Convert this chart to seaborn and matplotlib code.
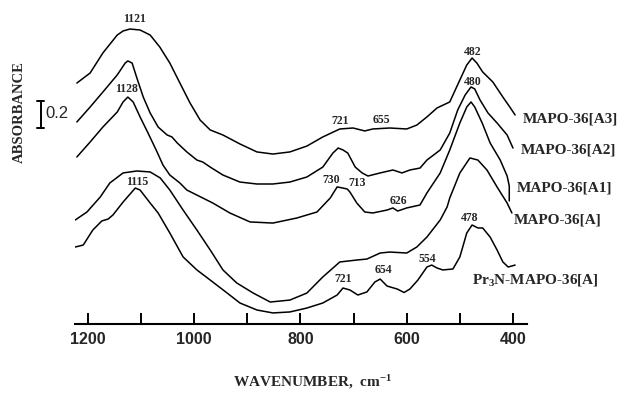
import matplotlib
matplotlib.use("Agg")
import matplotlib.pyplot as plt
from matplotlib.lines import Line2D
import pandas as pd
import seaborn as sns

# ---------------- data (wavenumber cm-1, stacked absorbance) ----------------
wn_A3 = [1221, 1196, 1172, 1145, 1134, 1121, 1102, 1083, 1065, 1046, 1027, 1008, 989, 970, 946,
         914, 882, 852, 820, 788, 758, 726, 701, 679, 664, 632, 600, 581, 562, 543, 519, 500,
         487, 477, 468, 457, 438, 419, 406, 396]
abs_A3 = [1.721, 1.793, 1.936, 2.064, 2.093, 2.107, 2.100, 2.064, 1.979, 1.864, 1.721, 1.579, 1.457,
          1.386, 1.350, 1.286, 1.229, 1.214, 1.229, 1.271, 1.336, 1.393, 1.400, 1.379, 1.393, 1.400,
          1.393, 1.421, 1.479, 1.543, 1.586, 1.743, 1.850, 1.900, 1.864, 1.800, 1.729, 1.621, 1.550,
          1.493]

wn_A2 = [1221, 1196, 1172, 1145, 1130, 1125, 1117, 1108, 1096, 1083, 1068, 1051, 1042, 1032, 1014,
         995, 984, 970, 946, 914, 882, 852, 820, 788, 758, 739, 729, 720, 711, 697, 684, 673, 650,
         626, 609, 594, 575, 562, 537, 519, 504, 490, 479, 472, 462, 447, 430, 411, 400]
abs_A2 = [1.443, 1.550, 1.657, 1.779, 1.864, 1.879, 1.864, 1.757, 1.621, 1.507, 1.407, 1.350, 1.336,
          1.293, 1.229, 1.171, 1.157, 1.121, 1.064, 1.014, 1.000, 1.000, 1.014, 1.050, 1.121, 1.221,
          1.257, 1.243, 1.221, 1.121, 1.079, 1.057, 1.079, 1.100, 1.079, 1.100, 1.114, 1.171, 1.243,
          1.364, 1.529, 1.636, 1.693, 1.679, 1.600, 1.507, 1.436, 1.350, 1.257]

wn_A1 = [1221, 1196, 1172, 1145, 1134, 1125, 1115, 1102, 1087, 1070, 1059, 1046, 1027, 1014, 984,
         965, 933, 895, 852, 807, 769, 744, 731, 720, 712, 707, 694, 679, 664, 637, 626, 617, 600,
         575, 562, 537, 519, 500, 487, 479, 472, 458, 443, 424, 411, 407, 407]
abs_A1 = [1.193, 1.300, 1.407, 1.514, 1.586, 1.621, 1.586, 1.479, 1.364, 1.229, 1.136, 1.064, 1.007,
          0.957, 0.900, 0.864, 0.793, 0.729, 0.721, 0.757, 0.800, 0.900, 0.979, 0.971, 0.964, 0.943,
          0.864, 0.800, 0.793, 0.814, 0.829, 0.807, 0.829, 0.850, 0.936, 1.079, 1.243, 1.436, 1.550,
          1.586, 1.550, 1.436, 1.293, 1.171, 1.057, 0.986, 0.879]

wn_A = [1224, 1202, 1177, 1159, 1134, 1108, 1083, 1064, 1046, 1021, 995, 970, 946, 920, 889, 857,
        820, 788, 758, 726, 694, 675, 650, 632, 600, 581, 562, 537, 524, 519, 500, 481, 466, 449,
        430, 411, 402]
abs_A = [0.743, 0.800, 0.907, 1.007, 1.079, 1.093, 1.086, 1.043, 0.957, 0.814, 0.671, 0.529, 0.386,
         0.293, 0.221, 0.157, 0.171, 0.221, 0.336, 0.443, 0.457, 0.464, 0.507, 0.514, 0.507, 0.550,
         0.621, 0.743, 0.836, 0.900, 1.079, 1.186, 1.171, 1.100, 0.979, 0.864, 0.793]

wn_Pr = [1224, 1209, 1191, 1174, 1162, 1153, 1134, 1111, 1102, 1083, 1068, 1046, 1021, 995, 970,
         938, 914, 882, 852, 820, 788, 758, 731, 720, 707, 692, 675, 660, 650, 637, 618, 605, 594,
         579, 562, 553, 543, 532, 513, 500, 487, 477, 466, 457, 443, 430, 419, 409, 396]
abs_Pr = [0.550, 0.564, 0.671, 0.736, 0.750, 0.779, 0.871, 0.971, 0.957, 0.864, 0.793, 0.650, 0.479,
          0.386, 0.314, 0.221, 0.150, 0.100, 0.079, 0.086, 0.114, 0.150, 0.207, 0.257, 0.243, 0.207,
          0.229, 0.300, 0.321, 0.271, 0.250, 0.225, 0.250, 0.314, 0.407, 0.421, 0.400, 0.386, 0.393,
          0.479, 0.650, 0.707, 0.686, 0.686, 0.621, 0.529, 0.443, 0.407, 0.421]

series_names = ["MAPO-36[A3]", "MAPO-36[A2]", "MAPO-36[A1]", "MAPO-36[A]",
                "Pr$\\mathregular{_3}$N-MAPO-36[A]"]
series_wn = [wn_A3, wn_A2, wn_A1, wn_A, wn_Pr]
series_abs = [abs_A3, abs_A2, abs_A1, abs_A, abs_Pr]

peak_texts = ["1121", "1128", "1115", "721", "655", "730", "713", "626",
              "721", "654", "554", "482", "480", "478"]
peak_text_wn = [1112, 1128, 1108, 726, 647, 743, 694, 616, 720, 643, 562, 475, 475, 481]
peak_text_abs = [2.179, 1.679, 1.014, 1.450, 1.457, 1.029, 1.007, 0.879,
                 0.321, 0.386, 0.464, 1.943, 1.729, 0.757]

name_text_wn = [381, 385, 392, 398, 477]
name_text_abs = [1.464, 1.243, 0.971, 0.743, 0.314]

major_ticks = [1200, 1000, 800, 600, 400]
minor_ticks = [1100, 900, 700, 500]

# ---------------- figure ----------------
sns.set_theme(style="white")
plt.rcParams["font.family"] = ["DejaVu Sans"]

W, H = 622, 393
fig = plt.figure(figsize=(W / 100, H / 100), dpi=100)
fig.patch.set_facecolor("white")
ax = fig.add_axes([75 / W, 69 / H, 452 / W, 324 / H])
ax.set_facecolor("white")

frames = []
for name, wn, ab in zip(series_names, series_wn, series_abs):
    frames.append(pd.DataFrame({"wavenumber": wn, "absorbance": ab, "sample": name}))
df = pd.concat(frames, ignore_index=True)

sns.lineplot(data=df, x="wavenumber", y="absorbance", units="sample", estimator=None,
             sort=False, color="black", linewidth=1.1, legend=False, ax=ax)
for ln in ax.get_lines():
    ln.set_solid_joinstyle("round")
    ln.set_solid_capstyle("round")

ax.set_xlim(1224.5, 373.6)
ax.set_ylim(0, 324 / 140)
for s in ["left", "top", "right"]:
    ax.spines[s].set_visible(False)
ax.spines["bottom"].set_linewidth(1.5)
ax.spines["bottom"].set_color("black")
ax.set_xticks(major_ticks)
ax.set_xticks(minor_ticks, minor=True)
ax.set_yticks([])
ax.tick_params(axis="x", which="both", direction="in", length=8, width=1.4, color="black",
               bottom=True, pad=6)
ax.tick_params(axis="x", which="major", labelsize=11.5)
for lbl in ax.get_xticklabels():
    lbl.set_fontfamily("Liberation Sans")
    lbl.set_fontweight("bold")
ax.set_xlabel("")
ax.set_ylabel("")

serif = "Liberation Serif"
for t, x, y in zip(peak_texts, peak_text_wn, peak_text_abs):
    ax.text(x, y, t, ha="center", va="center", fontsize=8.5, fontfamily=serif,
            fontweight="bold")
for t, x, y in zip(series_names, name_text_wn, name_text_abs):
    ax.text(x, y, t, ha="left", va="center", fontsize=11, fontfamily=serif,
            fontweight="bold", clip_on=False)

# axis titles
fig.text(19 / W, 1 - 112 / H, "ABSORBANCE", rotation=90, ha="center", va="center",
         fontsize=10.5, fontfamily=serif, fontweight="bold")
fig.text(233 / W, 1 - 387 / H, "WAVENUMBER,  cm$\\mathregular{^{-1}}$", ha="left",
         va="baseline", fontsize=11, fontfamily=serif, fontweight="bold")

# 0.2 scale bar
fx = lambda px: px / W
fy = lambda py: 1 - py / H
for xs, ys in [([41, 41], [101, 128]), ([37, 44], [101, 101]), ([37, 44], [128, 128])]:
    fig.add_artist(Line2D([fx(v) for v in xs], [fy(v) for v in ys], color="black", lw=1.4))
fig.text(fx(45), fy(114), "0.2", ha="left", va="center", fontsize=12,
         fontfamily="Liberation Sans")

fig.savefig("out.png", dpi=100, facecolor="white")
